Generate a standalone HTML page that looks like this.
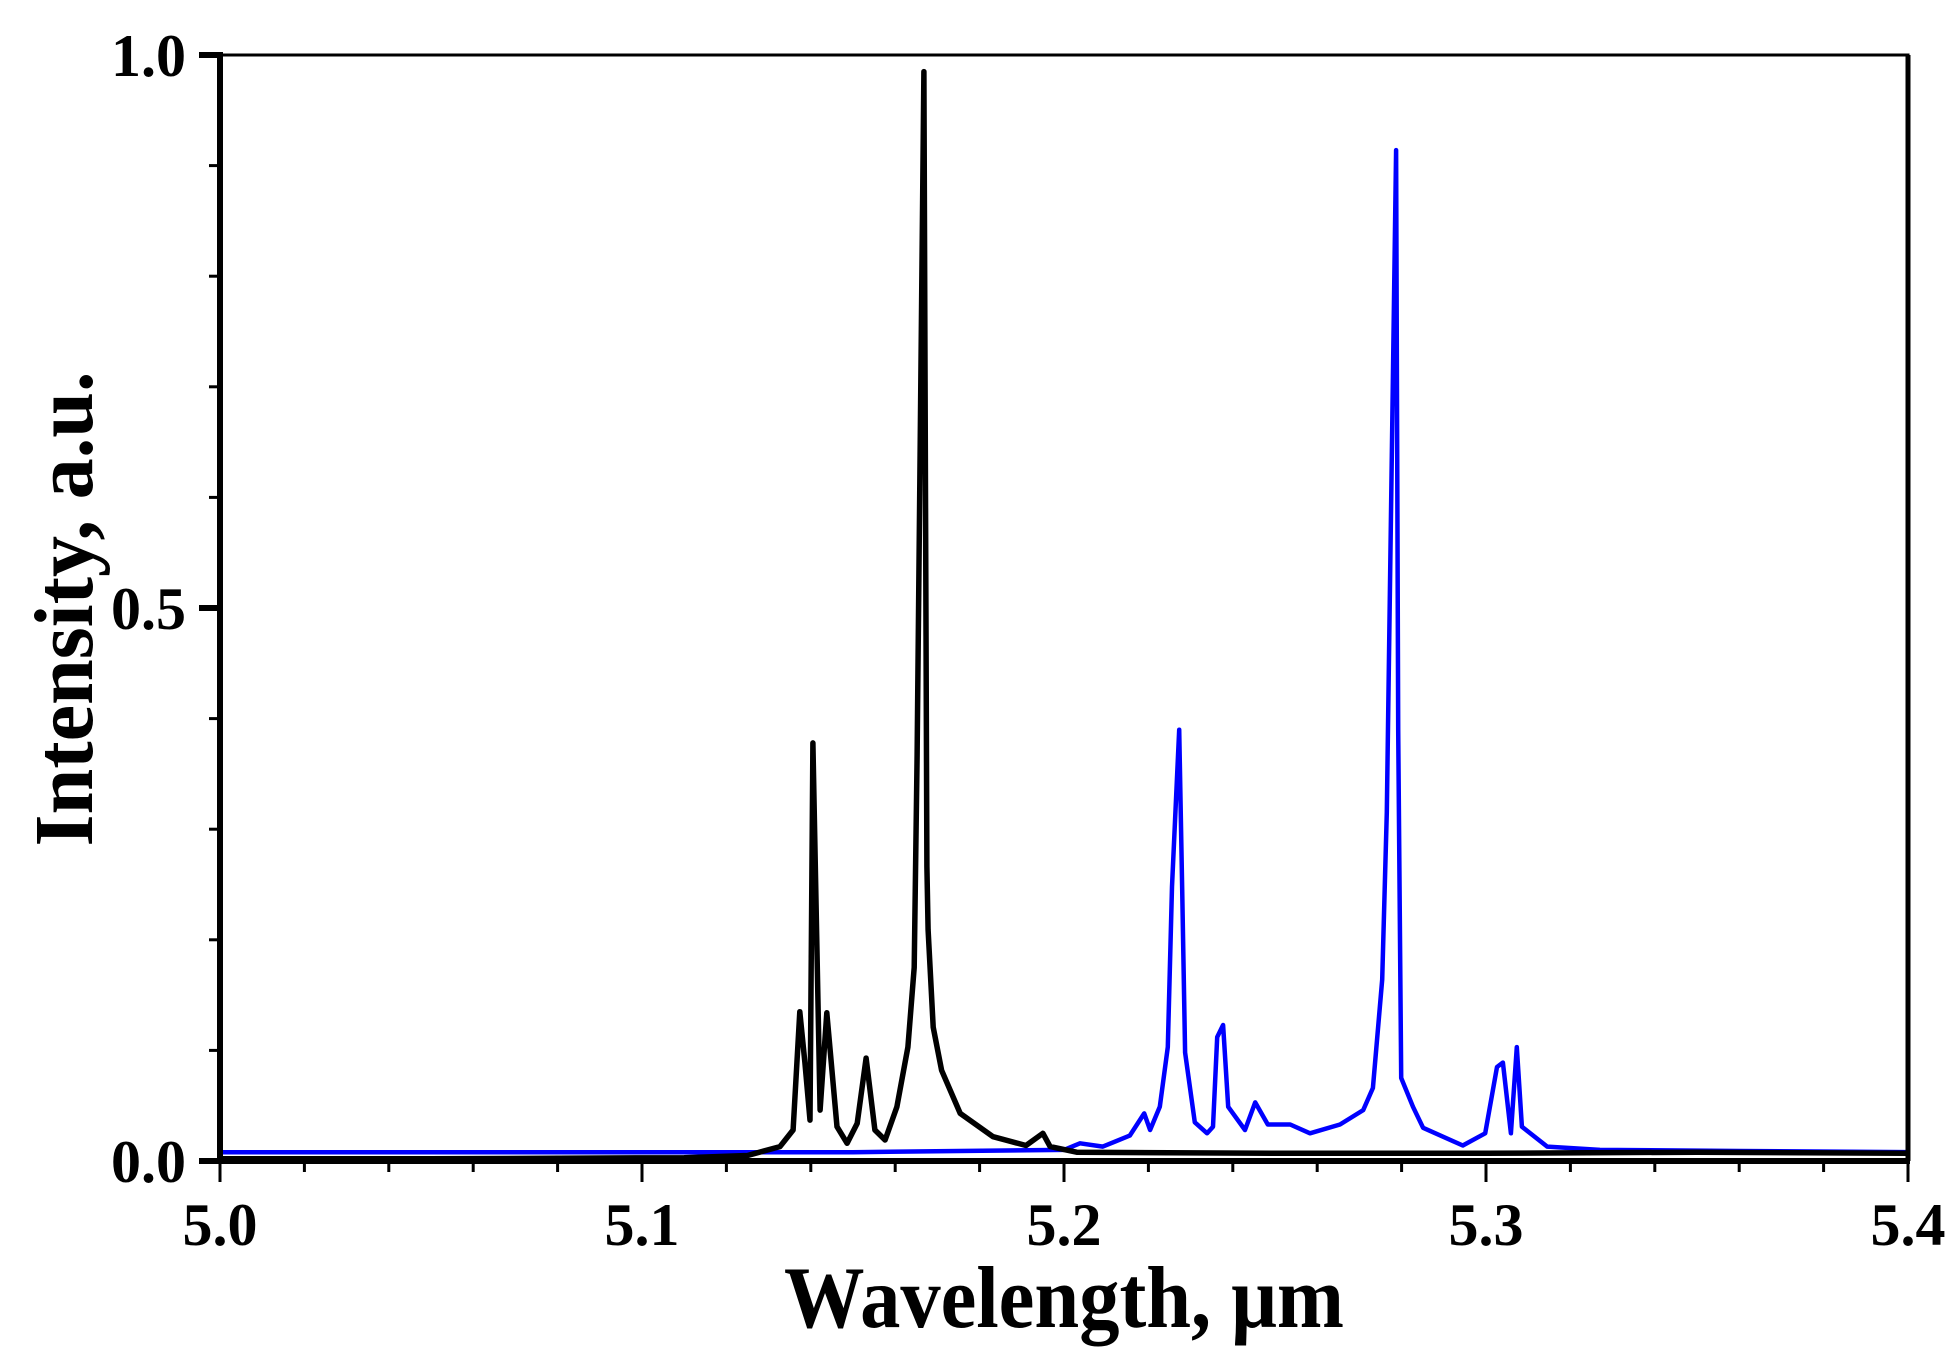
<!DOCTYPE html>
<html><head><meta charset="utf-8"><style>
html,body{margin:0;padding:0;background:#fff;}
svg{display:block;}
text{font-family:"Liberation Serif",serif;font-weight:bold;fill:#000;}
</style></head><body>
<svg id="chart" width="1957" height="1367" viewBox="0 0 1957 1367" xmlns="http://www.w3.org/2000/svg">
<g id="series"></g>
<g id="axes"></g>
<text x="1064" y="1327" font-size="88" text-anchor="middle" textLength="560" lengthAdjust="spacingAndGlyphs">Wavelength, μm</text>
<text x="0" y="0" font-size="84" text-anchor="middle" textLength="475" lengthAdjust="spacingAndGlyphs" transform="translate(92,609) rotate(-90)">Intensity, a.u.</text>
</svg>
<script>
const xTicks=[5.0,5.1,5.2,5.3,5.4];
const xTickLabels=["5.0","5.1","5.2","5.3","5.4"];
const yTicks=[0,0.5,1.0];
const yTickLabels=["0.0","0.5","1.0"];
const blackX=[5.0,5.05,5.11,5.125,5.1327,5.1358,5.1374,5.1386,5.1398,5.1405,5.1422,5.1438,5.1462,5.1486,5.151,5.1531,5.1552,5.1576,5.1604,5.163,5.1645,5.1652,5.1668,5.1675,5.1678,5.169,5.171,5.1754,5.1832,5.191,5.195,5.1967,5.203,5.25,5.3,5.35,5.4];
const blackY=[0.002,0.002,0.003,0.005,0.013,0.028,0.135,0.089,0.037,0.378,0.046,0.134,0.031,0.016,0.034,0.093,0.028,0.019,0.049,0.103,0.175,0.366,0.985,0.266,0.209,0.121,0.082,0.043,0.022,0.014,0.025,0.013,0.008,0.007,0.007,0.008,0.007];
const blueX=[5.0,5.05,5.1,5.15,5.2,5.2038,5.2092,5.2156,5.219,5.2204,5.2227,5.2246,5.2256,5.2273,5.228,5.2287,5.231,5.2339,5.2353,5.2363,5.2377,5.2389,5.2429,5.2453,5.2483,5.2536,5.2583,5.2654,5.2709,5.2732,5.2754,5.2765,5.2787,5.2792,5.2799,5.2827,5.2851,5.2945,5.2998,5.3026,5.304,5.3059,5.3073,5.3085,5.3145,5.327,5.36,5.4];
const blueY=[0.008,0.008,0.008,0.008,0.01,0.016,0.013,0.023,0.043,0.028,0.049,0.103,0.248,0.39,0.245,0.098,0.035,0.025,0.031,0.112,0.123,0.049,0.028,0.053,0.033,0.033,0.025,0.033,0.046,0.066,0.164,0.315,0.914,0.39,0.075,0.049,0.03,0.014,0.025,0.085,0.089,0.025,0.103,0.031,0.013,0.01,0.009,0.008];

const X0=220,X1=1908,Y0=1161,Y1=55;
const xs=v=>X0+(v-5.0)/0.4*(X1-X0);
const ys=v=>Y0-v*(Y0-Y1);
const NS="http://www.w3.org/2000/svg";
function mk(tag,attrs,parent){const e=document.createElementNS(NS,tag);for(const k in attrs)e.setAttribute(k,attrs[k]);parent.appendChild(e);return e;}
const series=document.getElementById('series');
const axes=document.getElementById('axes');

function line(xa,ya,color,name,w){
  let d=xa.map((x,i)=>(i?'L':'M')+xs(x).toFixed(1)+','+ys(ya[i]).toFixed(1)).join(' ');
  const p=mk('path',{d:d,fill:'none',stroke:color,'stroke-width':w,'stroke-linejoin':'round'},series);
  
  
}
line(blueX,blueY,'#0000ff','blue-spectrum-line',4.5);
line(blackX,blackY,'#000000','black-spectrum-line',5.5);

const frame=mk('path',{d:`M${X0},${Y1} L${X1},${Y1} L${X1},${Y0}`,fill:'none',stroke:'#000','stroke-width':3},axes);


const rx=mk('line',{x1:X1,y1:Y1,x2:X1,y2:Y0,stroke:'#000','stroke-width':5},axes);


const lx=mk('line',{x1:X0,y1:Y1-3,x2:X0,y2:Y0+3,stroke:'#000','stroke-width':6},axes);


const bx=mk('line',{x1:X0-3,y1:Y0,x2:X1+2,y2:Y0,stroke:'#000','stroke-width':6},axes);



for(let i=0;i<=20;i++){
  const v=5.0+i*0.02;
  const major=i%5===0;
  const t=mk('line',{x1:xs(v),y1:Y0,x2:xs(v),y2:Y0+(major?21:11),stroke:'#000','stroke-width':3},axes);
  
  
}
xTicks.forEach((v,i)=>{
  const t=mk('text',{x:xs(v),y:1245,'font-size':60,'text-anchor':'middle'},axes);
  t.textContent=xTickLabels[i];
  
  
});
for(let i=0;i<=10;i++){
  const v=i*0.1;
  const major=i%5===0;
  const t=mk('line',{x1:X0,y1:ys(v),x2:X0-(major?21:11),y2:ys(v),stroke:'#000','stroke-width':major?6:3},axes);
  
  
}
yTicks.forEach((v,i)=>{
  const t=mk('text',{x:186,y:ys(v)+21,'font-size':60,'text-anchor':'end'},axes);
  t.textContent=yTickLabels[i];
  
  
});
</script>
</body></html>
